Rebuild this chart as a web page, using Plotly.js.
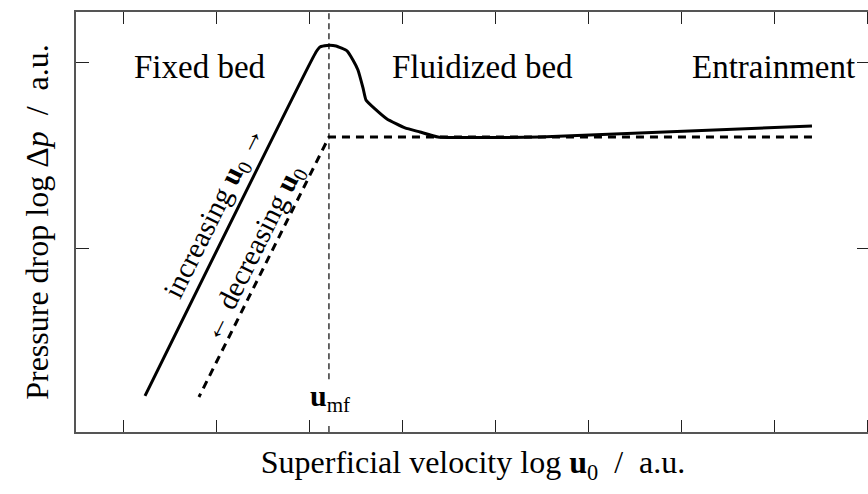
<!DOCTYPE html>
<html>
<head>
<meta charset="utf-8">
<script src="https://cdn.plot.ly/plotly-3.0.1.min.js"></script>
<style>
  html, body { margin: 0; padding: 0; overflow: hidden; background: #fff; }
  #chart { width: 872px; height: 494px; }
  .face { position: absolute; left: 0; top: 0; visibility: hidden; font-family: "Liberation Serif"; font-size: 30px; }
</style>
</head>
<body>
<span class="face" id="face">u <b>u</b> <i>p</i></span>
<div id="chart"></div>
<script>
// Pressure drop across a particle bed vs. superficial velocity (log-log, arbitrary units)

// Rising velocity: linear rise through the fixed bed, overshoot at onset, then plateau
const upX = [1.226, 3.065, 3.108, 3.183, 3.280, 3.398, 3.462, 3.516, 3.570, 3.602, 3.699, 3.828, 4.022, 4.183, 4.376, 5.473, 8.398];
const upY = [0.210, 2.059, 2.086, 2.094, 2.091, 2.065, 2.016, 1.962, 1.866, 1.801, 1.753, 1.699, 1.651, 1.629, 1.602, 1.602, 1.661];

// Falling velocity: flat plateau back to u_mf, then linear decrease
const downX = [8.398, 3.204, 1.806];
const downY = [1.602, 1.602, 0.204];

// Minimum fluidization velocity marker
const umfX = [3.204, 3.204];
const umfY = [0.300, 2.274];

const xRange = [0.484, 9.022];
const yRange = [0.016, 2.274];
const xTicks = [1, 2, 3, 4, 5, 6, 7, 8, 9];
const yTicks = [1, 2];

const FAMILY = 'Liberation Serif';

function font(size) {
  return { family: FAMILY, size: size, color: '#000' };
}

const traces = [
  {
    x: umfX, y: umfY, mode: 'lines', hoverinfo: 'skip',
    line: { color: '#000', width: 1.2, dash: '6px,4px' }
  },
  {
    x: upX, y: upY, mode: 'lines', hoverinfo: 'skip',
    line: { color: '#000', width: 3, shape: 'spline', smoothing: 0.4 }
  },
  {
    x: downX, y: downY, mode: 'lines', hoverinfo: 'skip',
    line: { color: '#000', width: 3, dash: '8px,6px' }
  }
];

const layout = {
  width: 872, height: 494,
  margin: { l: 76, r: 2, t: 12, b: 62 },
  paper_bgcolor: '#fff', plot_bgcolor: '#fff',
  showlegend: false,
  xaxis: {
    range: xRange, tickvals: xTicks, showticklabels: false,
    ticks: 'inside', ticklen: 12, tickwidth: 1.3, tickcolor: '#222',
    showline: true, linecolor: '#555', linewidth: 2, mirror: 'ticks',
    showgrid: false, zeroline: false,
    title: { text: 'Superficial velocity log <b>u</b><sub>0</sub>  /  a.u.', font: font(32), standoff: 18 }
  },
  yaxis: {
    range: yRange, tickvals: yTicks, showticklabels: false,
    ticks: 'inside', ticklen: 13, tickwidth: 1.3, tickcolor: '#222',
    showline: true, linecolor: '#555', linewidth: 2, mirror: 'ticks',
    showgrid: false, zeroline: false,
    title: { text: 'Pressure drop log Δ<i>p</i>  /  a.u.', font: font(32), standoff: 16 }
  },
  shapes: [
    // short minor tick at u_mf on the bottom axis
    { type: 'line', xref: 'x', yref: 'paper', ysizemode: 'pixel', yanchor: 0,
      x0: umfX[0], x1: umfX[0], y0: 0, y1: 6, line: { color: '#222', width: 1.3 } }
  ],
  annotations: [
    { x: 1.817, y: 1.978, text: 'Fixed bed', showarrow: false, font: font(33) },
    { x: 4.860, y: 1.978, text: 'Fluidized bed', showarrow: false, font: font(33) },
    { x: 7.989, y: 1.978, text: 'Entrainment', showarrow: false, font: font(33) },
    { x: 1.975, y: 1.200, text: 'increasing <b>u</b><sub>0</sub> →', textangle: -63.6, showarrow: false, font: font(29) },
    { x: 2.385, y: 0.975, text: '← decreasing <b>u</b><sub>0</sub>', textangle: -63.6, showarrow: false, font: font(29) },
    { x: 3.215, y: 0.199, text: '<b>u</b><sub>mf</sub>', showarrow: false, font: font(30) }
  ]
};

function draw() {
  return Plotly.react('chart', traces, layout, { displayModeBar: false });
}

// lay out the serif face once so it is resolved before the chart is drawn
void document.getElementById('face').offsetWidth;
draw();

if (document.fonts && document.fonts.ready) {
  document.fonts.ready.then(function () {
    Plotly.purge('chart');
    draw();
  });
}
</script>
</body>
</html>
